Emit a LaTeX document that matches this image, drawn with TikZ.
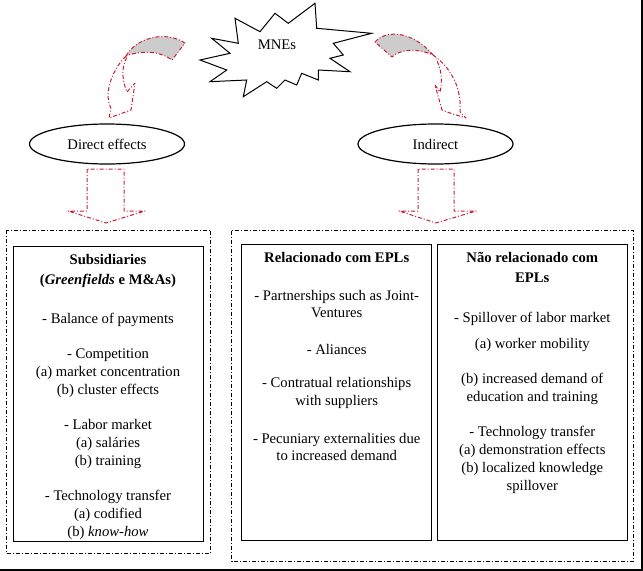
\documentclass[tikz,border=0pt]{standalone}
\usepackage{fontspec}
\setmainfont{Liberation Serif}
\usetikzlibrary{shapes.geometric}
\definecolor{arrred}{RGB}{200,30,50}
\definecolor{bandgray}{RGB}{204,204,204}
\begin{document}
\begin{tikzpicture}[x=0.75pt,y=-0.75pt,
  txt/.style={font=\fontsize{11}{13.35}\selectfont, align=center, inner sep=0pt},
  hd/.style={txt, font=\fontsize{11}{13.35}\selectfont\bfseries},
  outerbox/.style={draw=black, line width=0.75pt, dash pattern=on 3pt off 1.5pt on 0.75pt off 1.5pt},
  innerbox/.style={draw=black, line width=1.1pt},
  redline/.style={draw=arrred, line width=0.75pt, dash pattern=on 3pt off 1.5pt on 0.75pt off 1.5pt, line join=round},
  effect/.style={ellipse, draw=black, line width=0.9pt, minimum width=116.25pt, minimum height=30pt, inner sep=0pt, txt}]
\useasboundingbox (0,0) rectangle (643,571);
% image frame (right and bottom)
\draw[line width=1.5pt] (642,0) -- (642,570) -- (0,570);
% star
\draw[line width=0.75pt, line join=miter] (200,60) -- (230,53.3) -- (211.7,38.3) -- (238.3,43.3) -- (235,18.3) -- (260,31.7) -- (275,13.3) -- (288.3,23.3) -- (315,3.3) -- (316.7,28.3) -- (371.7,33.3) -- (333.3,43.3) -- (343.3,55) -- (330,58.3) -- (350,71.7) -- (318.3,70) -- (318.3,80) -- (301.7,73.3) -- (296.7,85) -- (285,80) -- (276.7,88.3) -- (266.7,81.7) -- (243.3,96.7) -- (246.7,80) -- (210,81.7) -- (226.7,70) -- cycle;
\node[txt] (mnes) at (277,45) {MNEs};
% ellipses
\node[effect] (direct) at (107,144) {Direct effects};
\node[effect] (indirect) at (435.5,144) {Indirect};
% curved arrows
\filldraw[redline, fill=bandgray] (126,56) .. controls (136,38) and (165,30) .. (185,43) -- (172,60) .. controls (160,51) and (142,50) .. (126,56) -- cycle;
\draw[redline] (126,56) .. controls (110,72) and (104,96) .. (111,108) -- (109,118) -- (131,110) -- (135,83) -- (127,92) .. controls (122,80) and (121,68) .. (127,57);
\filldraw[redline, fill=bandgray] (375,42) .. controls (385,30) and (412,30) .. (433,55) .. controls (418,48) and (400,49) .. (392,57) -- cycle;
\draw[redline] (433,55) .. controls (452,68) and (462,90) .. (460,112) -- (466,118) -- (450,113) -- (442,110) -- (435,85) -- (440,92) .. controls (443,80) and (441,68) .. (436,59);
% block arrows down
\draw[redline] (87,169) -- (87,211) -- (68,211) -- (106,223) -- (145,211) -- (124,211) -- (124,169) -- cycle;
\draw[redline] (418,169) -- (418,211) -- (399,211) -- (436,223) -- (476,211) -- (454,211) -- (454,169) -- cycle;
% boxes
\draw[outerbox] (6,230) rectangle (210.7,553.3);
\draw[outerbox] (231.7,230.5) rectangle (633.7,561);
\draw[innerbox] (13.3,246.3) rectangle (203.3,541.3);
\draw[innerbox] (241.7,244.3) rectangle (431.7,540.3);
\draw[innerbox] (437.3,244.3) rectangle (627.5,540.3);
% left box text
\node[hd] (lhead) at (108,271) {Subsidiaries\\[1.6pt](\textit{Greenfields} e M\&As)};
\node[txt] (l1) at (108,320) {- Balance of payments};
\node[txt] (l2) at (108,373) {- Competition\\(a) market concentration\\(b) cluster effects};
\node[txt] (l3) at (108,444) {- Labor market\\(a) saláries\\(b) training};
\node[txt] (l4) at (108,515) {- Technology transfer\\(a) codified\\(b) \textit{know-how}};
% middle box text
\node[hd] (mhead) at (336.7,257) {Relacionado com EPLs};
\node[txt] (m1) at (336.7,304) {- Partnerships such as Joint-\\Ventures};
\node[txt] (m2) at (336.7,349) {- Aliances};
\node[txt] (m3) at (336.7,393) {- Contratual relationships\\with suppliers};
\node[txt] (m4) at (336.7,447) {- Pecuniary externalities due\\to increased demand};
% right box text
\node[hd] (rhead) at (532.3,267) {Não relacionado com\\[1.6pt]EPLs};
\node[txt] (r1) at (532.3,319) {- Spillover of labor market};
\node[txt] (r2) at (532.3,345) {(a) worker mobility};
\node[txt] (r3) at (532.3,389) {(b) increased demand of\\education and training};
\node[txt] (r4) at (532.3,460) {- Technology transfer\\(a) demonstration effects\\(b) localized knowledge\\spillover};
\end{tikzpicture}
\end{document}
